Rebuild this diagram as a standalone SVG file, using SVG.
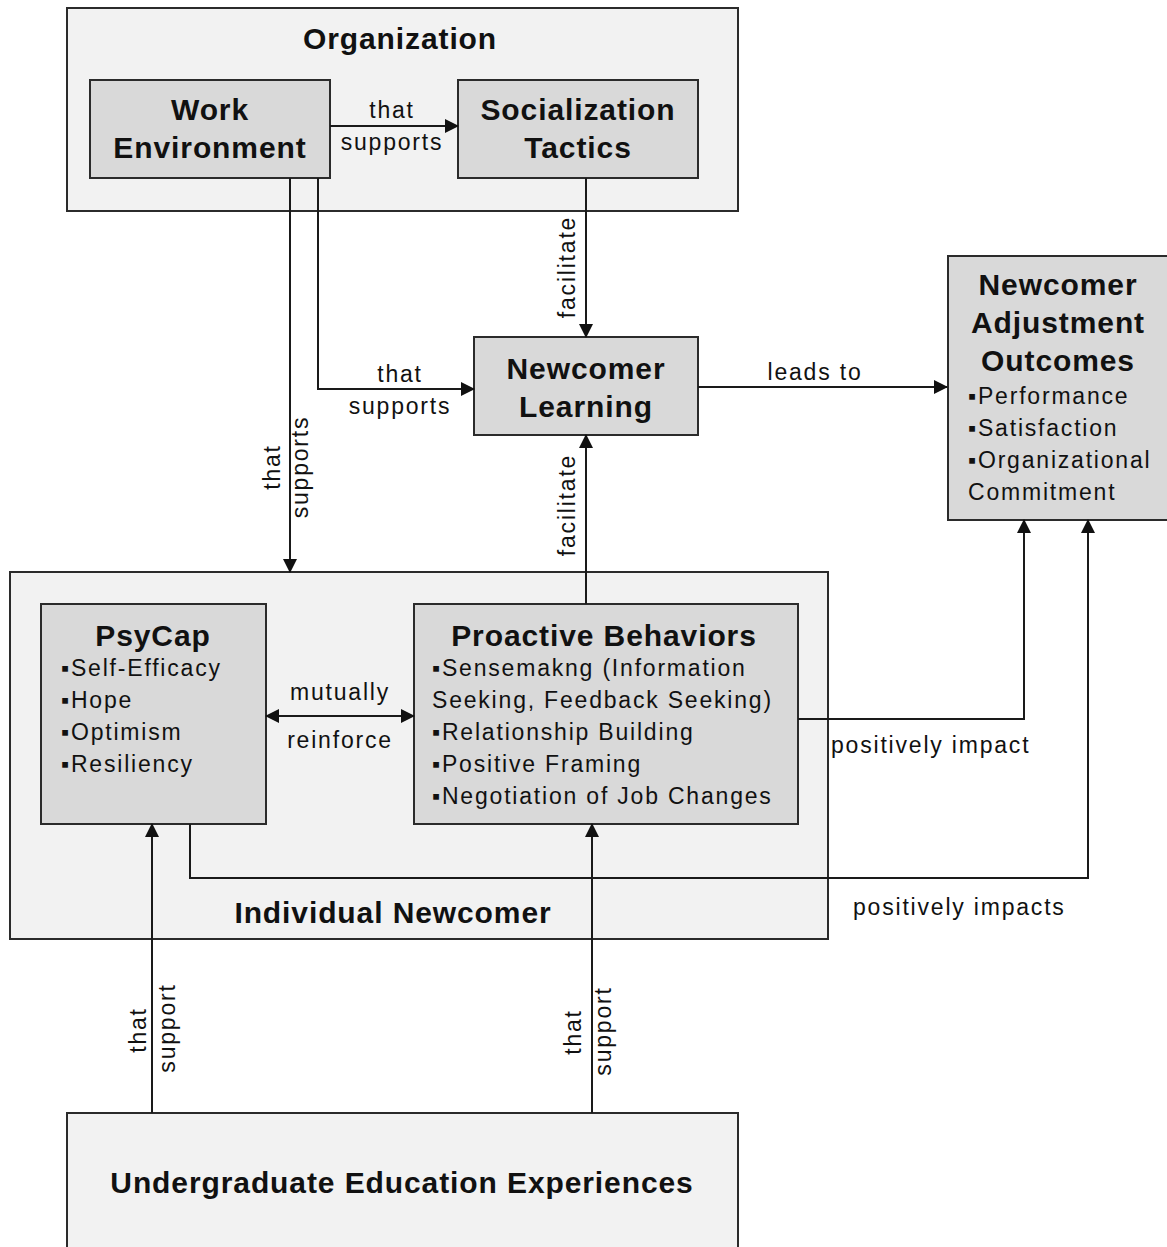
<svg xmlns="http://www.w3.org/2000/svg" width="1167" height="1247" viewBox="0 0 1167 1247">
<defs>
<style>
.outer{fill:#f2f2f2;stroke:#2b2b2b;stroke-width:2}
.node{fill:#d9d9d9;stroke:#2b2b2b;stroke-width:2}
.title{font-family:"Liberation Sans",Arial,sans-serif;font-weight:bold;font-size:30px;letter-spacing:0.9px;fill:#111}
.lbl{font-family:"Liberation Sans",Arial,sans-serif;font-size:23px;letter-spacing:1.8px;fill:#111}
.mid{text-anchor:middle}
.conn{fill:none;stroke:#1a1a1a;stroke-width:2}
</style>
<marker id="ah" viewBox="0 0 14 14" refX="13" refY="7" markerWidth="14" markerHeight="14" markerUnits="userSpaceOnUse" orient="auto-start-reverse">
<path d="M0,0 L14,7 L0,14 z" fill="#111"/>
</marker>
</defs>
<rect width="1167" height="1247" fill="#fff"/>

<g id="organization">
<rect class="outer" x="67" y="8" width="671" height="203"/>
<text class="title mid" x="400" y="49">Organization</text>
</g>
<g id="individual-newcomer">
<rect class="outer" x="10" y="572" width="818" height="367"/>
<text class="title mid" x="393" y="923">Individual Newcomer</text>
</g>
<g id="undergraduate">
<rect class="outer" x="67" y="1113" width="671" height="150"/>
<text class="title mid" x="402" y="1193">Undergraduate Education Experiences</text>
</g>

<g id="work-environment">
<rect class="node" x="90" y="80" width="240" height="98"/>
<text class="title mid" x="210" y="120">Work</text>
<text class="title mid" x="210" y="158">Environment</text>
</g>
<g id="socialization-tactics">
<rect class="node" x="458" y="80" width="240" height="98"/>
<text class="title mid" x="578" y="120">Socialization</text>
<text class="title mid" x="578" y="158">Tactics</text>
</g>
<g id="newcomer-learning">
<rect class="node" x="474" y="337" width="224" height="98"/>
<text class="title mid" x="586" y="379">Newcomer</text>
<text class="title mid" x="586" y="417">Learning</text>
</g>
<g id="adjustment-outcomes">
<rect class="node" x="948" y="256" width="220" height="264"/>
<text class="title mid" x="1058" y="295">Newcomer</text>
<text class="title mid" x="1058" y="333">Adjustment</text>
<text class="title mid" x="1058" y="371">Outcomes</text>
<text class="lbl" x="968" y="404">▪Performance</text>
<text class="lbl" x="968" y="436">▪Satisfaction</text>
<text class="lbl" x="968" y="468">▪Organizational</text>
<text class="lbl" x="968" y="500">Commitment</text>
</g>
<g id="psycap">
<rect class="node" x="41" y="604" width="225" height="220"/>
<text class="title mid" x="153" y="646">PsyCap</text>
<text class="lbl" x="61" y="676">▪Self-Efficacy</text>
<text class="lbl" x="61" y="708">▪Hope</text>
<text class="lbl" x="61" y="740">▪Optimism</text>
<text class="lbl" x="61" y="772">▪Resiliency</text>
</g>
<g id="proactive-behaviors">
<rect class="node" x="414" y="604" width="384" height="220"/>
<text class="title mid" x="604" y="646">Proactive Behaviors</text>
<text class="lbl" x="432" y="676">▪Sensemakng (Information</text>
<text class="lbl" x="432" y="708">Seeking, Feedback Seeking)</text>
<text class="lbl" x="432" y="740">▪Relationship Building</text>
<text class="lbl" x="432" y="772">▪Positive Framing</text>
<text class="lbl" x="432" y="804">▪Negotiation of Job Changes</text>
</g>

<g id="connectors">
<path class="conn" d="M330,126 H458" marker-end="url(#ah)"/>
<path class="conn" d="M290,178 V572" marker-end="url(#ah)"/>
<path class="conn" d="M318,178 V389 H474" marker-end="url(#ah)"/>
<path class="conn" d="M586,178 V337" marker-end="url(#ah)"/>
<path class="conn" d="M586,604 V435" marker-end="url(#ah)"/>
<path class="conn" d="M698,387 H947" marker-end="url(#ah)"/>
<path class="conn" d="M266,716 H414" marker-start="url(#ah)" marker-end="url(#ah)"/>
<path class="conn" d="M798,719 H1024 V520" marker-end="url(#ah)"/>
<path class="conn" d="M190,824 V878 H1088 V520" marker-end="url(#ah)"/>
<path class="conn" d="M152,1113 V824" marker-end="url(#ah)"/>
<path class="conn" d="M592,1113 V824" marker-end="url(#ah)"/>

<text class="lbl mid" x="392" y="118">that</text>
<text class="lbl mid" x="392" y="150">supports</text>
<text class="lbl mid" x="400" y="382">that</text>
<text class="lbl mid" x="400" y="414">supports</text>
<text class="lbl mid" x="815" y="380">leads to</text>
<text class="lbl mid" x="340" y="700">mutually</text>
<text class="lbl mid" x="340" y="748">reinforce</text>
<text class="lbl" x="831" y="753">positively impact</text>
<text class="lbl" x="853" y="915">positively impacts</text>
<text class="lbl mid" transform="translate(575,267) rotate(-90)">facilitate</text>
<text class="lbl mid" transform="translate(575,505) rotate(-90)">facilitate</text>
<text class="lbl mid" transform="translate(280,467) rotate(-90)">that</text>
<text class="lbl mid" transform="translate(308,467) rotate(-90)">supports</text>
<text class="lbl mid" transform="translate(146,1030) rotate(-90)">that</text>
<text class="lbl mid" transform="translate(175,1028) rotate(-90)">support</text>
<text class="lbl mid" transform="translate(581,1032) rotate(-90)">that</text>
<text class="lbl mid" transform="translate(611,1031) rotate(-90)">support</text>
</g>
</svg>
